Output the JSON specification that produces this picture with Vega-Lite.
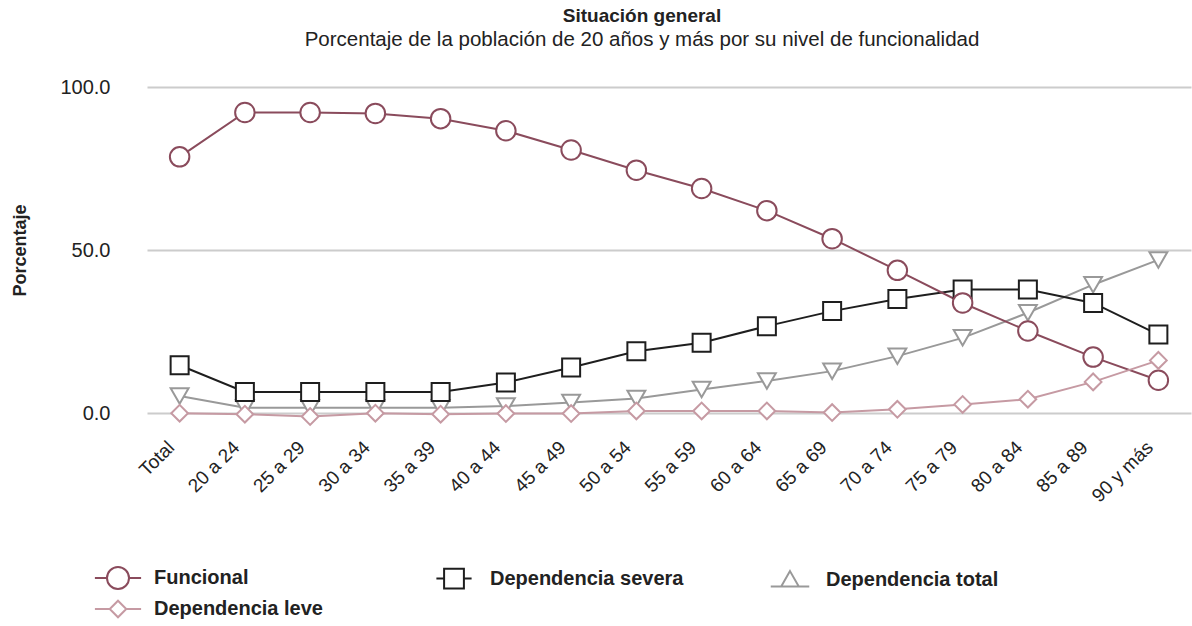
{
  "$schema": "https://vega.github.io/schema/vega-lite/v6.json",
  "width": 1044,
  "height": 349,
  "autosize": {"type": "none"},
  "padding": {"left": 147, "top": 74, "right": 1, "bottom": 203},
  "background": "white",
  "title": {
    "text": "Situación general",
    "subtitle": "Porcentaje de la población de 20 años y más por su nivel de funcionalidad",
    "anchor": "middle",
    "dx": -27,
    "offset": 24,
    "font": "Liberation Sans",
    "fontSize": 19,
    "fontWeight": "bold",
    "color": "#222222",
    "subtitleFont": "Liberation Sans",
    "subtitleFontSize": 20.5,
    "subtitleColor": "#222222",
    "subtitlePadding": 4
  },
  "config": {
    "view": {"stroke": null},
    "font": "Liberation Sans"
  },
  "data": {
    "values": [
      {"grupo": "Total", "serie": "Dependencia total", "valor": 5.3},
      {"grupo": "20 a 24", "serie": "Dependencia total", "valor": 1.7},
      {"grupo": "25 a 29", "serie": "Dependencia total", "valor": 1.7},
      {"grupo": "30 a 34", "serie": "Dependencia total", "valor": 1.7},
      {"grupo": "35 a 39", "serie": "Dependencia total", "valor": 1.7},
      {"grupo": "40 a 44", "serie": "Dependencia total", "valor": 2.2},
      {"grupo": "45 a 49", "serie": "Dependencia total", "valor": 3.3},
      {"grupo": "50 a 54", "serie": "Dependencia total", "valor": 4.5},
      {"grupo": "55 a 59", "serie": "Dependencia total", "valor": 7.3},
      {"grupo": "60 a 64", "serie": "Dependencia total", "valor": 9.9},
      {"grupo": "65 a 69", "serie": "Dependencia total", "valor": 12.9},
      {"grupo": "70 a 74", "serie": "Dependencia total", "valor": 17.5},
      {"grupo": "75 a 79", "serie": "Dependencia total", "valor": 23.1},
      {"grupo": "80 a 84", "serie": "Dependencia total", "valor": 30.8},
      {"grupo": "85 a 89", "serie": "Dependencia total", "valor": 39.4},
      {"grupo": "90 y más", "serie": "Dependencia total", "valor": 47.0},
      {"grupo": "Total", "serie": "Dependencia severa", "valor": 14.7},
      {"grupo": "20 a 24", "serie": "Dependencia severa", "valor": 6.5},
      {"grupo": "25 a 29", "serie": "Dependencia severa", "valor": 6.5},
      {"grupo": "30 a 34", "serie": "Dependencia severa", "valor": 6.5},
      {"grupo": "35 a 39", "serie": "Dependencia severa", "valor": 6.5},
      {"grupo": "40 a 44", "serie": "Dependencia severa", "valor": 9.4},
      {"grupo": "45 a 49", "serie": "Dependencia severa", "valor": 14.0},
      {"grupo": "50 a 54", "serie": "Dependencia severa", "valor": 19.0},
      {"grupo": "55 a 59", "serie": "Dependencia severa", "valor": 21.6},
      {"grupo": "60 a 64", "serie": "Dependencia severa", "valor": 26.7},
      {"grupo": "65 a 69", "serie": "Dependencia severa", "valor": 31.3},
      {"grupo": "70 a 74", "serie": "Dependencia severa", "valor": 35.0},
      {"grupo": "75 a 79", "serie": "Dependencia severa", "valor": 37.9},
      {"grupo": "80 a 84", "serie": "Dependencia severa", "valor": 37.9},
      {"grupo": "85 a 89", "serie": "Dependencia severa", "valor": 33.8},
      {"grupo": "90 y más", "serie": "Dependencia severa", "valor": 24.1},
      {"grupo": "Total", "serie": "Funcional", "valor": 78.6},
      {"grupo": "20 a 24", "serie": "Funcional", "valor": 92.2},
      {"grupo": "25 a 29", "serie": "Funcional", "valor": 92.2},
      {"grupo": "30 a 34", "serie": "Funcional", "valor": 91.9},
      {"grupo": "35 a 39", "serie": "Funcional", "valor": 90.3},
      {"grupo": "40 a 44", "serie": "Funcional", "valor": 86.6},
      {"grupo": "45 a 49", "serie": "Funcional", "valor": 80.7},
      {"grupo": "50 a 54", "serie": "Funcional", "valor": 74.5},
      {"grupo": "55 a 59", "serie": "Funcional", "valor": 68.9},
      {"grupo": "60 a 64", "serie": "Funcional", "valor": 62.1},
      {"grupo": "65 a 69", "serie": "Funcional", "valor": 53.5},
      {"grupo": "70 a 74", "serie": "Funcional", "valor": 43.8},
      {"grupo": "75 a 79", "serie": "Funcional", "valor": 33.8},
      {"grupo": "80 a 84", "serie": "Funcional", "valor": 25.2},
      {"grupo": "85 a 89", "serie": "Funcional", "valor": 17.2},
      {"grupo": "90 y más", "serie": "Funcional", "valor": 10.1},
      {"grupo": "Total", "serie": "Dependencia leve", "valor": 0.0},
      {"grupo": "20 a 24", "serie": "Dependencia leve", "valor": -0.3},
      {"grupo": "25 a 29", "serie": "Dependencia leve", "valor": -1.0},
      {"grupo": "30 a 34", "serie": "Dependencia leve", "valor": 0.0},
      {"grupo": "35 a 39", "serie": "Dependencia leve", "valor": -0.3},
      {"grupo": "40 a 44", "serie": "Dependencia leve", "valor": -0.1},
      {"grupo": "45 a 49", "serie": "Dependencia leve", "valor": -0.1},
      {"grupo": "50 a 54", "serie": "Dependencia leve", "valor": 0.7},
      {"grupo": "55 a 59", "serie": "Dependencia leve", "valor": 0.7},
      {"grupo": "60 a 64", "serie": "Dependencia leve", "valor": 0.7},
      {"grupo": "65 a 69", "serie": "Dependencia leve", "valor": 0.2},
      {"grupo": "70 a 74", "serie": "Dependencia leve", "valor": 1.2},
      {"grupo": "75 a 79", "serie": "Dependencia leve", "valor": 2.7},
      {"grupo": "80 a 84", "serie": "Dependencia leve", "valor": 4.3},
      {"grupo": "85 a 89", "serie": "Dependencia leve", "valor": 9.6},
      {"grupo": "90 y más", "serie": "Dependencia leve", "valor": 16.2}
    ]
  },
  "encoding": {
    "x": {
      "field": "grupo",
      "type": "ordinal",
      "sort": null,
      "scale": {"type": "point", "padding": 0.5},
      "axis": {
        "title": null,
        "labelAngle": -45,
        "labelAlign": "right",
        "labelBaseline": "middle",
        "labelPadding": 21,
        "labelOffset": -9,
        "labelFontSize": 19,
        "labelColor": "#222222",
        "labelLimit": 200,
        "ticks": false,
        "domain": false,
        "grid": false
      }
    },
    "y": {
      "field": "valor",
      "type": "quantitative",
      "scale": {"domain": [-3, 104], "nice": false, "zero": false},
      "axis": {
        "title": "Porcentaje",
        "titleFontSize": 18,
        "titleFontWeight": "bold",
        "titleColor": "#222222",
        "titleX": -127,
        "titleY": 176,
        "titleAlign": "center",
        "titleBaseline": "middle",
        "titleAngle": -90,
        "values": [0, 50, 100],
        "format": ".1f",
        "labelFontSize": 20,
        "labelColor": "#222222",
        "labelPadding": 37,
        "ticks": false,
        "domain": false,
        "grid": true,
        "gridColor": "#cccccc",
        "gridWidth": 2
      }
    },
    "color": {
      "field": "serie",
      "type": "nominal",
      "scale": {
        "domain": ["Funcional", "Dependencia severa", "Dependencia total", "Dependencia leve"],
        "range": ["#8a4b5c", "#1e1e1e", "#999999", "#c69aa3"]
      },
      "legend": null
    }
  },
  "layer": [
    {
      "mark": {"type": "line", "strokeWidth": 2},
      "encoding": {
        "color": {
          "field": "serie",
          "type": "nominal",
          "scale": {
            "domain": ["Funcional", "Dependencia severa", "Dependencia total", "Dependencia leve"],
            "range": ["#8a4b5c", "#1e1e1e", "#999999", "#c69aa3"]
          },
          "legend": {
            "title": null,
            "orient": "none",
            "legendX": -41,
            "legendY": 492,
            "direction": "horizontal",
            "columns": 3,
            "gridAlign": "all",
            "columnPadding": 82,
            "rowPadding": 3,
            "symbolSize": 484,
            "symbolStrokeWidth": 2,
            "labelOffset": 24,
            "labelFontSize": 20,
            "labelFontWeight": "bold",
            "labelColor": "#222222",
            "labelFont": "Liberation Sans",
            "labelLimit": 400,
            "encode": {
              "symbols": {
                "update": {
                  "shape": {"signal": "datum.value === 'Funcional' ? 'M-2.1,0L-1,0M1,0L2.1,0M-1,0A1,1,0,1,1,1,0A1,1,0,1,1,-1,0Z' : datum.value === 'Dependencia severa' ? 'M-1.6,0L-0.9,0M0.9,0L1.6,0M-0.9,-0.9L0.9,-0.9L0.9,0.9L-0.9,0.9Z' : datum.value === 'Dependencia total' ? 'M-1.75,0.55L-0.8,0.55M0.8,0.55L1.75,0.55M0,-0.85L0.8,0.55L-0.8,0.55Z' : 'M-2.1,0L-0.75,0M0.75,0L2.1,0M0,-0.75L0.75,0L0,0.75L-0.75,0Z'"},
                  "fill": {"value": "white"},
                  "strokeWidth": {"value": 2},
                  "opacity": {"value": 1}
                }
              }
            }
          }
        }
      }
    },
    {
      "transform": [{"filter": "datum.serie === 'Dependencia total'"}],
      "mark": {"type": "point", "shape": "triangle-down", "size": 320, "filled": false, "fill": "white", "strokeWidth": 2, "opacity": 1}
    },
    {
      "transform": [{"filter": "datum.serie === 'Dependencia severa'"}],
      "mark": {"type": "point", "shape": "square", "size": 324, "filled": false, "fill": "white", "strokeWidth": 2, "opacity": 1}
    },
    {
      "transform": [{"filter": "datum.serie === 'Funcional'"}],
      "mark": {"type": "point", "shape": "circle", "size": 380, "filled": false, "fill": "white", "strokeWidth": 2, "opacity": 1}
    },
    {
      "transform": [{"filter": "datum.serie === 'Dependencia leve'"}],
      "mark": {"type": "point", "shape": "diamond", "size": 280, "filled": false, "fill": "white", "strokeWidth": 2, "opacity": 1}
    }
  ]
}
